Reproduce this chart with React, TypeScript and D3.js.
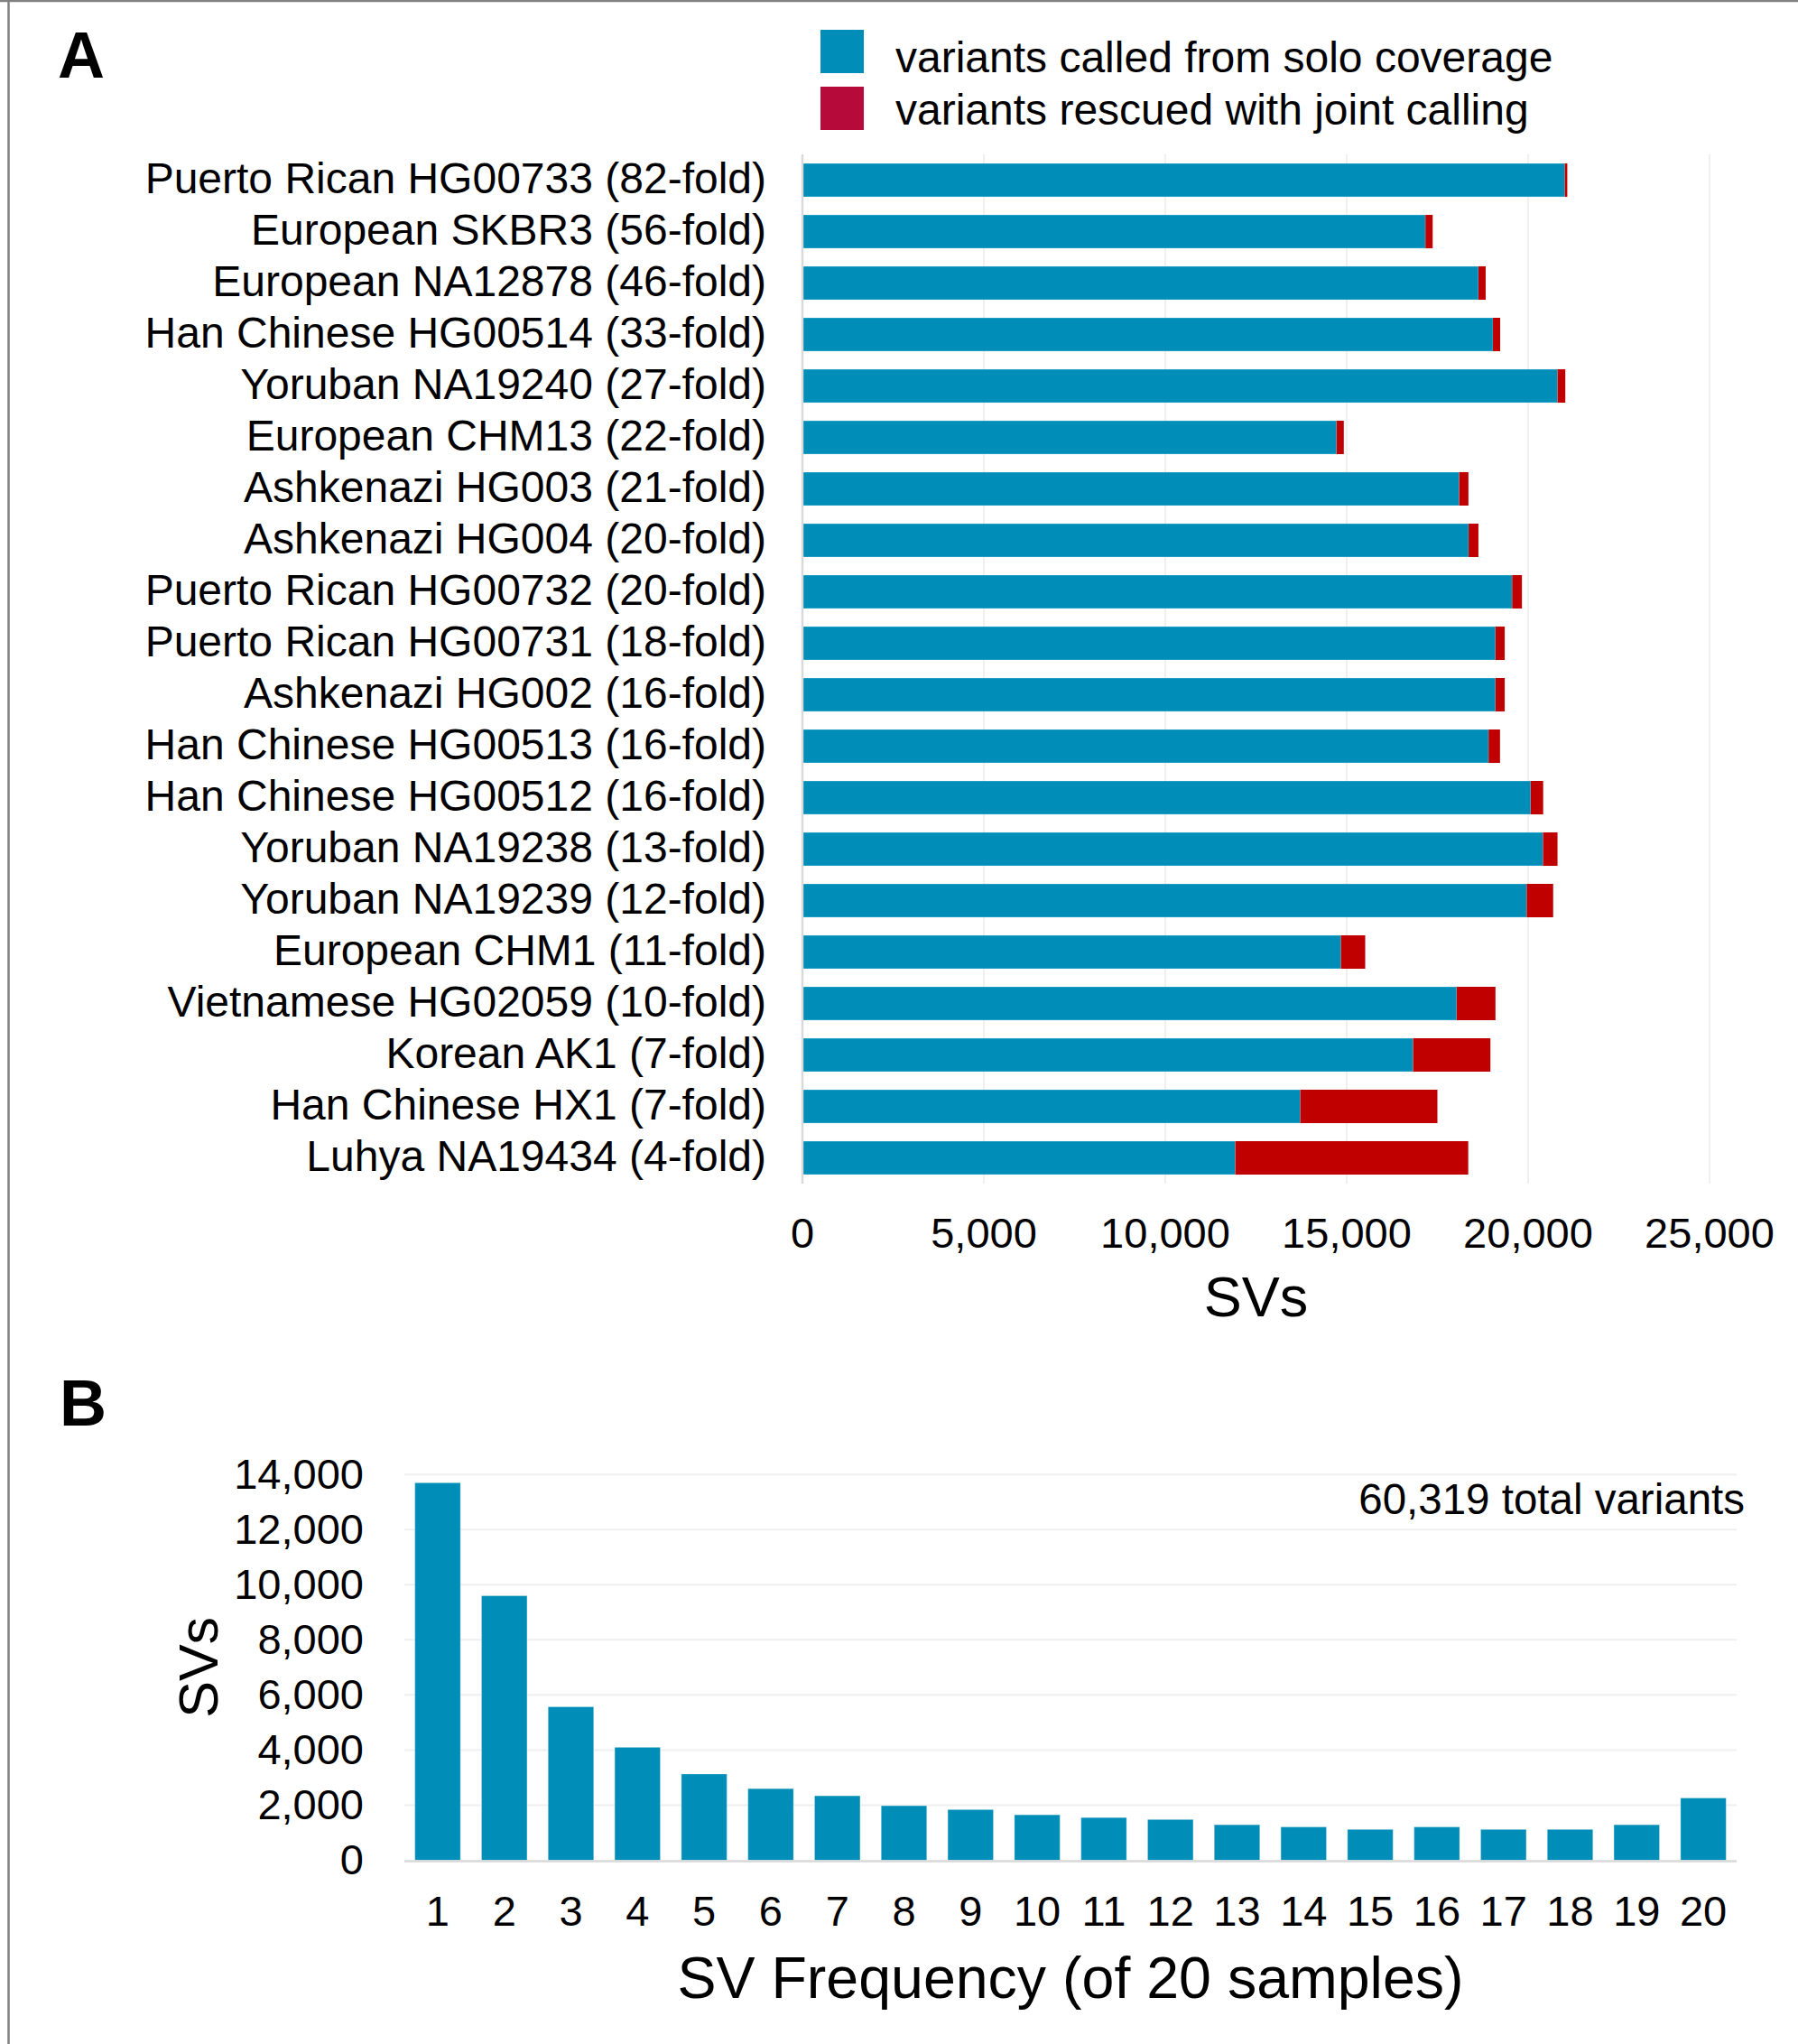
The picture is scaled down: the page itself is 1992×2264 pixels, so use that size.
import React from 'react';
import * as d3 from 'd3';

// Panel A: per-sample SV counts, solo calls vs. rescued by joint calling
const samples = [
  'Puerto Rican HG00733 (82-fold)',
  'European SKBR3 (56-fold)',
  'European NA12878 (46-fold)',
  'Han Chinese HG00514 (33-fold)',
  'Yoruban NA19240 (27-fold)',
  'European CHM13 (22-fold)',
  'Ashkenazi HG003 (21-fold)',
  'Ashkenazi HG004 (20-fold)',
  'Puerto Rican HG00732 (20-fold)',
  'Puerto Rican HG00731 (18-fold)',
  'Ashkenazi HG002 (16-fold)',
  'Han Chinese HG00513 (16-fold)',
  'Han Chinese HG00512 (16-fold)',
  'Yoruban NA19238 (13-fold)',
  'Yoruban NA19239 (12-fold)',
  'European CHM1 (11-fold)',
  'Vietnamese HG02059 (10-fold)',
  'Korean AK1 (7-fold)',
  'Han Chinese HX1 (7-fold)',
  'Luhya NA19434 (4-fold)',
];
const soloCalls = [
  21010, 17170, 18630, 19030, 20810, 14720, 18100, 18360, 19560, 19100,
  19100, 18910, 20070, 20410, 19960, 14840, 18030, 16830, 13720, 11930,
];
const rescued = [
  70, 200, 200, 200, 215, 200, 255, 270, 270, 255,
  255, 315, 345, 400, 730, 670, 1070, 2130, 3780, 6420,
];
const xTicksA = [0, 5000, 10000, 15000, 20000, 25000];

// Panel B: SV frequency histogram
const freqBins = d3.range(1, 21).map(String);
const freqCounts = [
  13700, 9600, 5570, 4100, 3130, 2600, 2340, 1980, 1840, 1650,
  1550, 1480, 1290, 1210, 1120, 1210, 1120, 1120, 1290, 2260,
];
const yTicksB = [0, 2000, 4000, 6000, 8000, 10000, 12000, 14000];

const legendItems = [
  { label: 'variants called from solo coverage', color: '#008db8' },
  { label: 'variants rescued with joint calling', color: '#b50a3a' },
];

const BLUE = '#008db8';
const RED = '#c00000';
const FONT = '"Liberation Sans", Arial, Helvetica, sans-serif';
const fmt = d3.format(',');

const W = 1992;
const H = 2264;

export default function App() {
  // Panel A scales
  const xA = d3.scaleLinear().domain([0, 25000]).range([889, 1894]);
  const yA = d3.scaleBand<string>()
    .domain(samples)
    .range([171, 1311])
    .paddingInner(0.35)
    .paddingOuter(0.175);

  // Panel B scales
  const xB = d3.scaleBand<string>()
    .domain(freqBins)
    .range([448, 1924])
    .paddingInner(0.316)
    .paddingOuter(0.158);
  const yB = d3.scaleLinear().domain([0, 14000]).range([2060.5, 1633.2]);

  return (
    <div style={{ position: 'absolute', left: 0, top: 0 }}>
      <svg width={W} height={H} style={{ display: 'block', background: '#fff' }} fontFamily={FONT}>
        {/* frame */}
        <line x1={0} x2={W} y1={1} y2={1} stroke="#808080" strokeWidth={2.5} />
        <line x1={9.5} x2={9.5} y1={0} y2={H} stroke="#808080" strokeWidth={2.5} />

        {/* ---------- Panel A ---------- */}
        <text x={64} y={86} fontSize={72} fontWeight="bold" fill="#000">A</text>

        {legendItems.map((d, i) => (
          <g key={d.label}>
            <rect x={909} y={33 + i * 63} width={48} height={48} fill={d.color} />
            <text x={992} y={80 + i * 58} fontSize={48} fill="#000">{d.label}</text>
          </g>
        ))}

        {/* gridlines */}
        {xTicksA.slice(1).map(t => (
          <line key={t} x1={xA(t)} x2={xA(t)} y1={171} y2={1311} stroke="#ebebeb" strokeWidth={1.5} />
        ))}

        {/* stacked bars */}
        {samples.map((s, i) => {
          const y0 = yA(s)!;
          const bh = yA.bandwidth();
          return (
            <g key={s}>
              <rect x={xA(0)} y={y0} width={xA(soloCalls[i]) - xA(0)} height={bh} fill={BLUE}
                stroke="rgba(255,255,255,0.3)" strokeWidth={1} />
              <rect x={xA(soloCalls[i])} y={y0} width={xA(soloCalls[i] + rescued[i]) - xA(soloCalls[i])} height={bh} fill={RED} />
              <text x={849} y={y0 + bh / 2} dy="0.3em" textAnchor="end" fontSize={48} fill="#000">{s}</text>
            </g>
          );
        })}

        {/* zero axis */}
        <line x1={xA(0)} x2={xA(0)} y1={171} y2={1311} stroke="#d9d9d9" strokeWidth={2.5} />

        {xTicksA.map(t => (
          <text key={t} x={xA(t)} y={1382} textAnchor="middle" fontSize={47} fill="#000">{fmt(t)}</text>
        ))}
        <text x={(xA(0) + xA(25000)) / 2} y={1458} textAnchor="middle" fontSize={63} fill="#000">SVs</text>

        {/* ---------- Panel B ---------- */}
        <text x={66} y={1579} fontSize={72} fontWeight="bold" fill="#000">B</text>

        {yTicksB.slice(1).map(t => (
          <line key={t} x1={448} x2={1924} y1={yB(t)} y2={yB(t)} stroke="#efefef" strokeWidth={2} />
        ))}

        {freqBins.map((b, i) => (
          <rect key={b} x={xB(b)} y={yB(freqCounts[i])} width={xB.bandwidth()} height={yB(0) - yB(freqCounts[i])}
            fill={BLUE} stroke="rgba(255,255,255,0.3)" strokeWidth={1} />
        ))}

        <line x1={448} x2={1924} y1={yB(0) + 1} y2={yB(0) + 1} stroke="#d9d9d9" strokeWidth={2.5} />

        {yTicksB.map(t => (
          <text key={t} x={403} y={yB(t)} dy="0.33em" textAnchor="end" fontSize={47} fill="#000">{fmt(t)}</text>
        ))}
        {freqBins.map(b => (
          <text key={b} x={xB(b)! + xB.bandwidth() / 2} y={2133} textAnchor="middle" fontSize={47} fill="#000">{b}</text>
        ))}

        <text x={1933} y={1677} textAnchor="end" fontSize={47.5} fill="#000">60,319 total variants</text>

        <text transform={`translate(241,${(yB(0) + yB(14000)) / 2}) rotate(-90)`} textAnchor="middle" fontSize={61} fill="#000">SVs</text>
        <text x={(448 + 1924) / 2} y={2213} textAnchor="middle" fontSize={64.5} fill="#000">SV Frequency (of 20 samples)</text>
      </svg>
    </div>
  );
}
